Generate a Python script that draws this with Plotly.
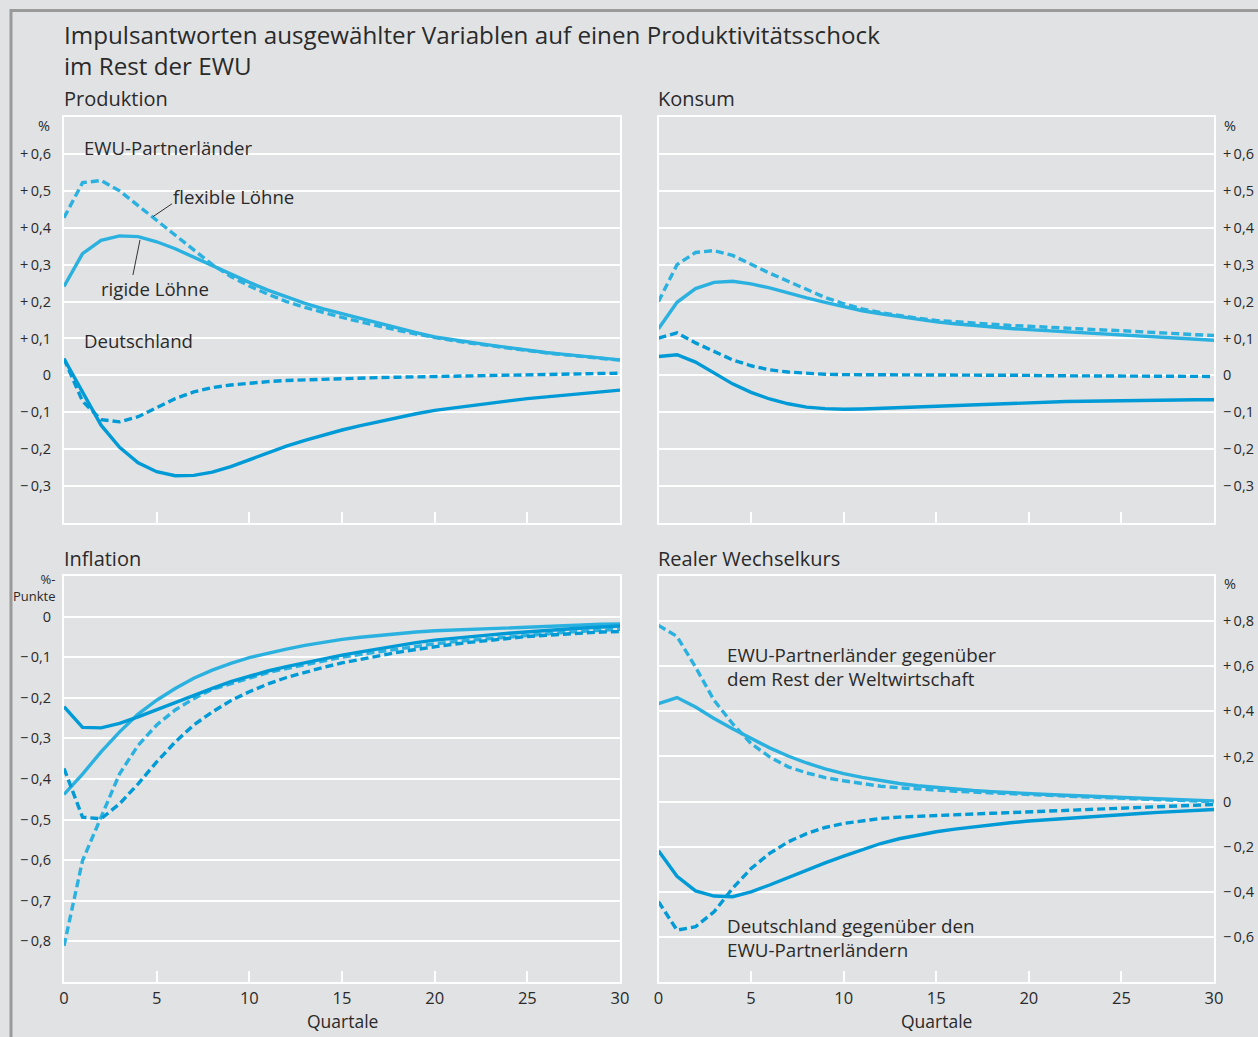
import plotly.graph_objects as go

W, H = 1258, 1037

quarters = list(range(31))

# Produktion
P_ewu_rig = [0.241,0.330,0.366,0.378,0.376,0.362,0.343,0.320,0.297,0.274,0.252,0.231,0.212,0.195,0.180,0.167,0.153,0.140,0.128,0.116,0.104,0.096,0.089,0.082,0.075,0.068,0.062,0.057,0.052,0.047,0.042]
P_ewu_flex = [0.427,0.522,0.528,0.500,0.460,0.420,0.380,0.340,0.300,0.268,0.242,0.220,0.200,0.184,0.170,0.157,0.145,0.133,0.122,0.112,0.102,0.094,0.087,0.080,0.073,0.066,0.061,0.056,0.051,0.046,0.041]
P_de_rig = [0.045,-0.045,-0.135,-0.195,-0.237,-0.261,-0.272,-0.271,-0.262,-0.247,-0.228,-0.210,-0.192,-0.176,-0.161,-0.148,-0.136,-0.125,-0.115,-0.104,-0.095,-0.088,-0.081,-0.075,-0.069,-0.063,-0.058,-0.053,-0.048,-0.044,-0.040]
P_de_flex = [0.045,-0.070,-0.120,-0.126,-0.112,-0.088,-0.063,-0.045,-0.033,-0.026,-0.021,-0.017,-0.014,-0.012,-0.010,-0.008,-0.007,-0.006,-0.005,-0.004,-0.003,-0.002,-0.001,0.000,0.001,0.002,0.003,0.004,0.005,0.005,0.006]

# Konsum
K_ewu_rig = [0.126,0.198,0.235,0.252,0.255,0.248,0.237,0.223,0.210,0.198,0.187,0.175,0.167,0.159,0.152,0.145,0.140,0.135,0.131,0.127,0.124,0.121,0.118,0.115,0.112,0.110,0.107,0.104,0.101,0.098,0.095]
K_ewu_flex = [0.200,0.300,0.333,0.338,0.325,0.300,0.277,0.255,0.232,0.211,0.194,0.180,0.170,0.162,0.155,0.149,0.145,0.141,0.138,0.135,0.133,0.130,0.128,0.126,0.123,0.121,0.119,0.116,0.113,0.110,0.108]
K_de_rig = [0.051,0.056,0.036,0.006,-0.023,-0.046,-0.064,-0.077,-0.086,-0.090,-0.092,-0.091,-0.089,-0.087,-0.085,-0.084,-0.082,-0.080,-0.078,-0.075,-0.073,-0.072,-0.071,-0.070,-0.069,-0.068,-0.067,-0.067,-0.066,-0.066,-0.066]
K_de_flex = [0.101,0.115,0.088,0.065,0.042,0.026,0.015,0.009,0.005,0.003,0.002,0.002,0.001,0.001,0.001,0.001,0.000,0.000,0.000,0.000,0.000,-0.001,-0.001,-0.001,-0.001,-0.002,-0.002,-0.002,-0.002,-0.003,-0.003]

# Inflation
I_ewu_rig = [-0.438,-0.388,-0.333,-0.284,-0.240,-0.206,-0.177,-0.152,-0.132,-0.115,-0.101,-0.090,-0.080,-0.071,-0.063,-0.056,-0.051,-0.046,-0.042,-0.038,-0.035,-0.033,-0.031,-0.029,-0.027,-0.025,-0.024,-0.022,-0.021,-0.019,-0.018]
I_ewu_flex = [-0.811,-0.601,-0.494,-0.387,-0.317,-0.267,-0.230,-0.202,-0.179,-0.165,-0.150,-0.138,-0.128,-0.118,-0.109,-0.100,-0.093,-0.086,-0.079,-0.073,-0.067,-0.062,-0.058,-0.053,-0.049,-0.045,-0.042,-0.039,-0.036,-0.033,-0.031]
I_de_rig = [-0.222,-0.273,-0.274,-0.263,-0.247,-0.229,-0.212,-0.193,-0.177,-0.160,-0.146,-0.134,-0.123,-0.113,-0.104,-0.095,-0.087,-0.079,-0.071,-0.064,-0.058,-0.053,-0.049,-0.045,-0.041,-0.037,-0.034,-0.031,-0.028,-0.025,-0.023]
I_de_flex = [-0.374,-0.494,-0.498,-0.461,-0.412,-0.358,-0.309,-0.267,-0.235,-0.207,-0.185,-0.166,-0.150,-0.137,-0.125,-0.114,-0.105,-0.096,-0.088,-0.081,-0.074,-0.068,-0.063,-0.058,-0.053,-0.049,-0.046,-0.043,-0.040,-0.038,-0.037]

# Realer Wechselkurs
W_ewu_rig = [0.434,0.461,0.419,0.368,0.323,0.279,0.238,0.202,0.171,0.145,0.124,0.107,0.092,0.080,0.070,0.062,0.055,0.049,0.044,0.039,0.035,0.031,0.028,0.025,0.021,0.018,0.015,0.012,0.009,0.006,0.003]
W_ewu_flex = [0.781,0.732,0.596,0.449,0.345,0.257,0.198,0.154,0.127,0.106,0.092,0.079,0.068,0.061,0.055,0.050,0.046,0.042,0.038,0.034,0.031,0.028,0.025,0.021,0.018,0.015,0.012,0.009,0.006,0.003,-0.001]
W_de_rig = [-0.218,-0.331,-0.396,-0.419,-0.422,-0.400,-0.370,-0.337,-0.301,-0.272,-0.242,-0.213,-0.186,-0.165,-0.149,-0.134,-0.122,-0.112,-0.102,-0.094,-0.086,-0.080,-0.074,-0.068,-0.063,-0.058,-0.053,-0.048,-0.044,-0.039,-0.035]
W_de_flex = [-0.444,-0.570,-0.555,-0.489,-0.385,-0.297,-0.230,-0.179,-0.142,-0.115,-0.097,-0.085,-0.075,-0.069,-0.065,-0.061,-0.058,-0.055,-0.052,-0.049,-0.046,-0.043,-0.040,-0.037,-0.034,-0.030,-0.027,-0.023,-0.020,-0.016,-0.013]

x_ticks = [0, 5, 10, 15, 20, 25, 30]
x_ticklabels = ["0", "5", "10", "15", "20", "25", "30"]

yt_top = [0.6, 0.5, 0.4, 0.3, 0.2, 0.1, 0.0, -0.1, -0.2, -0.3]
yt_top_lbl = ["+\u20090,6", "+\u20090,5", "+\u20090,4", "+\u20090,3", "+\u20090,2", "+\u20090,1", "0",
              "\u2212\u20090,1", "\u2212\u20090,2", "\u2212\u20090,3"]
yt_inf = [0.0, -0.1, -0.2, -0.3, -0.4, -0.5, -0.6, -0.7, -0.8]
yt_inf_lbl = ["0", "\u2212\u20090,1", "\u2212\u20090,2", "\u2212\u20090,3", "\u2212\u20090,4",
              "\u2212\u20090,5", "\u2212\u20090,6", "\u2212\u20090,7", "\u2212\u20090,8"]
yt_wk = [0.8, 0.6, 0.4, 0.2, 0.0, -0.2, -0.4, -0.6]
yt_wk_lbl = ["+\u20090,8", "+\u20090,6", "+\u20090,4", "+\u20090,2", "0", "\u2212\u20090,2", "\u2212\u20090,4", "\u2212\u20090,6"]

LIGHT = "#2bb1df"
DARK = "#009ad6"
BG = "#e1e2e4"
TXT = "#2a2a2a"
FONT = "Open Sans"
DASH = "8px,4px"
LW = 3.4

fig = go.Figure()

panels = [
    ("x", "y", [(P_ewu_rig, LIGHT, "solid"), (P_ewu_flex, LIGHT, DASH), (P_de_rig, DARK, "solid"), (P_de_flex, DARK, DASH)]),
    ("x2", "y2", [(K_ewu_rig, LIGHT, "solid"), (K_ewu_flex, LIGHT, DASH), (K_de_rig, DARK, "solid"), (K_de_flex, DARK, DASH)]),
    ("x3", "y3", [(I_ewu_rig, LIGHT, "solid"), (I_ewu_flex, LIGHT, DASH), (I_de_rig, DARK, "solid"), (I_de_flex, DARK, DASH)]),
    ("x4", "y4", [(W_ewu_rig, LIGHT, "solid"), (W_ewu_flex, LIGHT, DASH), (W_de_rig, DARK, "solid"), (W_de_flex, DARK, DASH)]),
]
for xa, ya, series in panels:
    for vals, col, dash in series:
        fig.add_trace(go.Scatter(x=quarters, y=vals, mode="lines", xaxis=xa, yaxis=ya,
                                 line=dict(color=col, width=LW, dash=dash), showlegend=False,
                                 hoverinfo="skip"))

def px_x(p):
    return p / W

def px_y(p):
    return 1 - p / H

L0, L1 = px_x(64), px_x(620)
R0, R1 = px_x(658.5), px_x(1214)
T0, T1 = px_y(523), px_y(117)
B0, B1 = px_y(982), px_y(576)

xcommon = dict(range=[0, 30], tickvals=x_ticks, ticktext=x_ticklabels, ticks="inside", ticklen=11,
               tickcolor="white", tickwidth=2, showline=True, linecolor="white", linewidth=2,
               mirror=True, showgrid=False, zeroline=False, automargin=False,
               tickfont=dict(family=FONT, size=16.5, color=TXT), fixedrange=True)
ycommon = dict(showline=True, linecolor="white", linewidth=2, mirror=True, showgrid=True,
               gridcolor="white", gridwidth=1.5, zeroline=False, ticks="", automargin=False,
               tickfont=dict(family=FONT, size=14.5, color=TXT), fixedrange=True)

fig.update_layout(
    width=W, height=H, autosize=False,
    margin=dict(l=0, r=0, t=0, b=0, pad=0),
    paper_bgcolor=BG, plot_bgcolor=BG,
    xaxis=dict(domain=[L0, L1], anchor="y", showticklabels=False, **xcommon),
    yaxis=dict(domain=[T0, T1], anchor="x", range=[-0.4, 0.7], tickvals=yt_top, ticktext=yt_top_lbl,
               side="left", ticklabelstandoff=8, **ycommon),
    xaxis2=dict(domain=[R0, R1], anchor="y2", showticklabels=False, **xcommon),
    yaxis2=dict(domain=[T0, T1], anchor="x2", range=[-0.4, 0.7], tickvals=yt_top, ticktext=yt_top_lbl,
                side="right", ticklabelstandoff=4, **ycommon),
    xaxis3=dict(domain=[L0, L1], anchor="y3", showticklabels=True, **xcommon),
    yaxis3=dict(domain=[B0, B1], anchor="x3", range=[-0.9, 0.1], tickvals=yt_inf, ticktext=yt_inf_lbl,
                side="left", ticklabelstandoff=8, **ycommon),
    xaxis4=dict(domain=[R0, R1], anchor="y4", showticklabels=True, **xcommon),
    yaxis4=dict(domain=[B0, B1], anchor="x4", range=[-0.8, 1.0], tickvals=yt_wk, ticktext=yt_wk_lbl,
                side="right", ticklabelstandoff=4, **ycommon),
)

ann = []

def text(x, y, t, size, xanchor="left", yanchor="middle", color=TXT, align="left"):
    ann.append(dict(x=px_x(x), y=px_y(y), xref="paper", yref="paper", text=t, showarrow=False,
                    xanchor=xanchor, yanchor=yanchor, align=align,
                    font=dict(family=FONT, size=size, color=color)))

# Title
text(62, 50, "Impulsantworten ausgewählter Variablen auf einen Produktivitätsschock<br>im Rest der EWU", 24.2)
# Panel titles
text(62, 99, "Produktion", 20)
text(656, 99, "Konsum", 20)
text(62, 558, "Inflation", 20)
text(656, 558, "Realer Wechselkurs", 20)
# Units
text(44, 125, "%", 14.5, xanchor="center")
text(1230, 125, "%", 14.5, xanchor="center")
text(58, 587, "%-<br>Punkte", 13, xanchor="right", align="right")
text(1230, 583, "%", 14.5, xanchor="center")
# x titles
text(342, 1021, "Quartale", 17.5, xanchor="center")
text(936, 1021, "Quartale", 17.5, xanchor="center")
# Inline labels
text(82, 148, "EWU-Partnerländer", 18.6)
text(171, 197, "flexible Löhne", 18.6)
text(99, 288, "rigide Löhne", 18.6)
text(82, 341, "Deutschland", 18.6)
text(725, 667, "EWU-Partnerländer gegenüber<br>dem Rest der Weltwirtschaft", 18.8)
text(725, 938, "Deutschland gegenüber den<br>EWU-Partnerländern", 18.8)

fig.update_layout(annotations=ann)

# gaps in the gridlines behind the inline labels
def gap(x0, x1, y0, y1):
    fig.add_shape(type="rect", xref="paper", yref="paper", x0=px_x(x0), x1=px_x(x1),
                  y0=px_y(y1), y1=px_y(y0), fillcolor=BG, line=dict(width=0), layer="below")

gap(76, 262, 148, 160)
gap(167, 296, 185, 197)
gap(76, 200, 333, 345)
gap(719, 1006, 660, 672)
gap(719, 983, 930, 942)

# leader lines (data coordinates of the Produktion panel)
fig.add_shape(type="line", xref="x", yref="y", x0=5.83, y0=0.465, x1=4.80, y1=0.430,
              line=dict(color="#333333", width=1))
fig.add_shape(type="line", xref="x", yref="y", x0=3.72, y0=0.272, x1=4.10, y1=0.367,
              line=dict(color="#333333", width=1))
# outer frame
fig.add_shape(type="line", xref="paper", yref="paper", x0=px_x(10), x1=1, y0=px_y(10.5), y1=px_y(10.5),
              line=dict(color="#9a9a9a", width=3))
fig.add_shape(type="line", xref="paper", yref="paper", x0=px_x(11), x1=px_x(11), y0=px_y(9), y1=0,
              line=dict(color="#9a9a9a", width=3))

fig.write_html("out.html", config={"displayModeBar": False},
               post_script="document.body.style.margin='0';document.body.style.overflow='hidden';")
